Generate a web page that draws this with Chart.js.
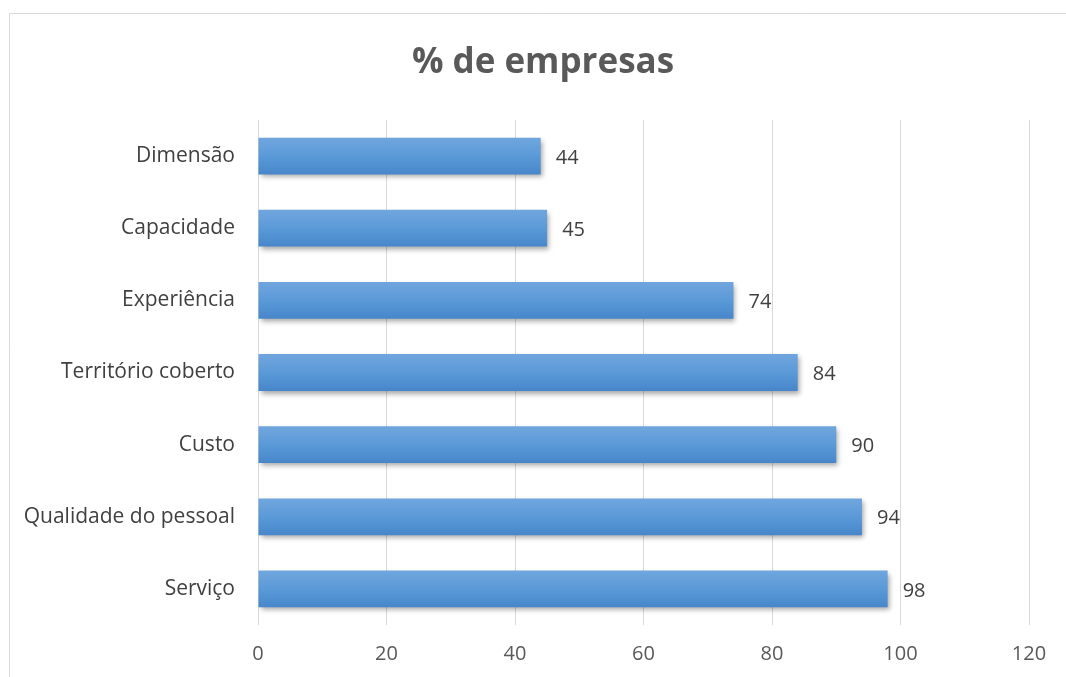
<!DOCTYPE html>
<html><head><meta charset="utf-8">
<script src="https://cdn.jsdelivr.net/npm/chart.js@4/dist/chart.umd.min.js"></script>
<style>html,body{margin:0;padding:0;background:#fff;}#wrap{width:1066px;height:677px;position:relative;}</style>
</head><body><div id="wrap"><canvas id="c" width="1066" height="677"></canvas></div>
<script>
const categories = ["Dimensão","Capacidade","Experiência","Território coberto","Custo","Qualidade do pessoal","Serviço"];
const values = [44,45,74,84,90,94,98];
const xTicks = [0,20,40,60,80,100,120];
const titleText = "% de empresas";
const FONT = "'Open Sans', sans-serif";

const framePlugin = {
  id:'frame',
  beforeDraw(chart){
    const ctx = chart.ctx; ctx.save();
    ctx.fillStyle='#fff'; ctx.fillRect(0,0,chart.width,chart.height);
    ctx.strokeStyle='#d9d9d9'; ctx.lineWidth=1;
    ctx.beginPath(); ctx.moveTo(9.5,chart.height+2); ctx.lineTo(9.5,13.5); ctx.lineTo(chart.width+2,13.5); ctx.stroke();
    ctx.fillStyle='#595959'; ctx.font="bold 35px "+FONT; ctx.textAlign='center'; ctx.textBaseline='middle';
    ctx.fillText(titleText, 543, 63);
    ctx.restore();
  }
};
const shadowPlugin = {
  id:'shadow',
  beforeDatasetDraw(chart){ const c=chart.ctx; c.save(); c.shadowColor='rgba(0,0,0,0.35)'; c.shadowBlur=5; c.shadowOffsetX=2; c.shadowOffsetY=3; },
  afterDatasetDraw(chart){ chart.ctx.restore(); }
};
const labelPlugin = {
  id:'labels',
  afterDatasetsDraw(chart){
    const ctx=chart.ctx; const meta=chart.getDatasetMeta(0);
    ctx.save(); ctx.fillStyle='#404040'; ctx.font="20px "+FONT; ctx.textAlign='left'; ctx.textBaseline='middle';
    meta.data.forEach((el,i)=>{ ctx.fillText(String(values[i]), el.x+15, el.y+2); });
    ctx.restore();
  }
};

new Chart(document.getElementById('c'), {
  type:'bar',
  data:{ labels:categories, datasets:[{ data:values,
    backgroundColor:(ctx)=>{
      const chart=ctx.chart; const ys=chart.scales.y;
      if(!ys || ctx.dataIndex===undefined) return '#5b9bd5';
      const y=ys.getPixelForValue(ctx.dataIndex);
      if(!isFinite(y)) return '#5b9bd5';
      const g=chart.ctx.createLinearGradient(0,y-19,0,y+19);
      g.addColorStop(0,'#71a6de'); g.addColorStop(0.5,'#5b9ad8'); g.addColorStop(1,'#4685c9');
      return g;
    },
    borderWidth:0, barPercentage:0.51, categoryPercentage:1 }]},
  options:{
    indexAxis:'y', responsive:false, animation:false, devicePixelRatio:1,
    layout:{padding:{top:120,right:37,left:0,bottom:0}},
    plugins:{legend:{display:false}, title:{display:false}, tooltip:{enabled:false}},
    scales:{
      x:{ min:0, max:120, afterBuildTicks(s){ s.ticks = xTicks.map(v=>({value:v})); },
        grid:{color:'#d9d9d9', drawTicks:false}, border:{display:false},
        ticks:{color:'#595959', font:{family:FONT,size:20}, padding:17},
        afterFit(s){ s.height=52; } },
      y:{ grid:{display:false, drawTicks:false, tickLength:0}, border:{display:false},
        ticks:{color:'#404040', font:{family:FONT,size:21}, padding:23},
        afterFit(s){ s.width=258; } }
    }
  },
  plugins:[framePlugin, shadowPlugin, labelPlugin]
});
</script></body></html>
